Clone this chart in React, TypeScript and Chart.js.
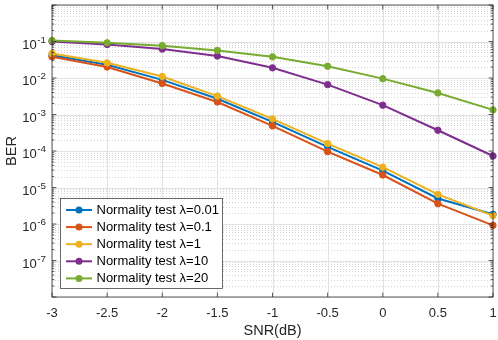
import React, { useEffect, useRef } from "react";
import { Chart, registerables } from "chart.js";
Chart.register(...registerables);

const snrDb = [-3, -2.5, -2, -1.5, -1, -0.5, 0, 0.5, 1];
const berLambda001 = [0.042, 0.023, 0.0089, 0.0027, 6.3e-4, 1.3e-4, 2.9e-5, 5.0e-6, 1.85e-6];
const berLambda01 = [0.038, 0.02, 0.0071, 0.0022, 4.9e-4, 9.6e-5, 2.2e-5, 3.6e-6, 9.2e-7];
const berLambda1 = [0.047, 0.026, 0.011, 0.0032, 7.6e-4, 1.6e-4, 3.6e-5, 6.5e-6, 1.7e-6];
const berLambda10 = [0.1, 0.083, 0.062, 0.04, 0.019, 0.0066, 0.0018, 3.7e-4, 7.3e-5];
const berLambda20 = [0.107, 0.092, 0.077, 0.057, 0.038, 0.021, 0.0096, 0.0039, 0.00134];

const seriesValues = [berLambda001, berLambda01, berLambda1, berLambda10, berLambda20];
const seriesLabels = [
  "Normality test λ=0.01",
  "Normality test λ=0.1",
  "Normality test λ=1",
  "Normality test λ=10",
  "Normality test λ=20",
];
const seriesColors = ["#0072BD", "#D95319", "#EDB120", "#7E2F8E", "#77AC30"];

const xTickValues = [-3, -2.5, -2, -1.5, -1, -0.5, 0, 0.5, 1];
const xTickLabels = ["-3", "-2.5", "-2", "-1.5", "-1", "-0.5", "0", "0.5", "1"];
const yDecadeExps = [-8, -7, -6, -5, -4, -3, -2, -1, 0];
const yLabelExps = [-7, -6, -5, -4, -3, -2, -1];
const xTitle = "SNR(dB)";
const yTitle = "BER";

const FONT = '"Liberation Sans", Arial, Helvetica, sans-serif';
const AXIS = "#262626";

function hline(ctx: CanvasRenderingContext2D, x0: number, x1: number, y: number) {
  ctx.beginPath();
  ctx.moveTo(x0, y);
  ctx.lineTo(x1, y);
  ctx.stroke();
}
function vline(ctx: CanvasRenderingContext2D, x: number, y0: number, y1: number) {
  ctx.beginPath();
  ctx.moveTo(x, y0);
  ctx.lineTo(x, y1);
  ctx.stroke();
}

const matlabPlugin = {
  id: "matlabLook",
  beforeDatasetsDraw(chart: any) {
    const { ctx, chartArea: a } = chart;
    const xs = chart.scales.x;
    const ys = chart.scales.y;
    ctx.save();
    ctx.lineWidth = 1;
    ctx.strokeStyle = "#d4d4d4";
    ctx.setLineDash([1, 2]);
    for (let e = -8; e < 0; e++) {
      for (let m = 2; m <= 9; m++) {
        const py = Math.round(ys.getPixelForValue(m * Math.pow(10, e))) + 0.5;
        hline(ctx, a.left, a.right, py);
      }
    }
    ctx.setLineDash([]);
    ctx.strokeStyle = "#e2e2e2";
    for (const e of yDecadeExps) {
      const py = Math.round(ys.getPixelForValue(Math.pow(10, e))) + 0.5;
      hline(ctx, a.left, a.right, py);
    }
    for (const v of xTickValues) {
      const px = Math.round(xs.getPixelForValue(v)) + 0.5;
      vline(ctx, px, a.top, a.bottom);
    }
    ctx.restore();
  },
  afterDatasetsDraw(chart: any) {
    const { ctx, chartArea: a } = chart;
    const xs = chart.scales.x;
    const ys = chart.scales.y;
    ctx.save();
    ctx.strokeStyle = AXIS;
    ctx.lineWidth = 0.75;
    ctx.strokeRect(a.left, a.top, a.right - a.left, a.bottom - a.top);
    const majorLen = 4.4;
    const minorLen = 2.2;
    for (const v of xTickValues) {
      const px = xs.getPixelForValue(v);
      vline(ctx, px, a.bottom, a.bottom - majorLen);
      vline(ctx, px, a.top, a.top + majorLen);
    }
    for (const e of yDecadeExps) {
      const py = ys.getPixelForValue(Math.pow(10, e));
      hline(ctx, a.left, a.left + majorLen, py);
      hline(ctx, a.right, a.right - majorLen, py);
    }
    for (let e = -8; e < 0; e++) {
      for (let m = 2; m <= 9; m++) {
        const py = ys.getPixelForValue(m * Math.pow(10, e));
        hline(ctx, a.left, a.left + minorLen, py);
        hline(ctx, a.right, a.right - minorLen, py);
      }
    }
    // x tick labels
    ctx.fillStyle = AXIS;
    ctx.font = `13px ${FONT}`;
    ctx.textAlign = "center";
    ctx.textBaseline = "alphabetic";
    xTickValues.forEach((v, i) => {
      ctx.fillText(xTickLabels[i], xs.getPixelForValue(v), a.bottom + 19.5);
    });
    // y tick labels 10^e
    for (const e of yLabelExps) {
      const py = ys.getPixelForValue(Math.pow(10, e));
      const expStr = String(e);
      ctx.font = `9.8px ${FONT}`;
      const ew = ctx.measureText(expStr).width;
      ctx.textAlign = "right";
      ctx.fillText(expStr, a.left - 6, py + 1.3);
      ctx.font = `13px ${FONT}`;
      ctx.fillText("10", a.left - 6.5 - ew, py + 7.2);
    }
    // axis titles
    ctx.font = `14.5px ${FONT}`;
    ctx.textAlign = "center";
    ctx.fillText(xTitle, (a.left + a.right) / 2, 334.5);
    ctx.save();
    ctx.translate(16.3, (a.top + a.bottom) / 2);
    ctx.rotate(-Math.PI / 2);
    ctx.fillText(yTitle, 0, 0);
    ctx.restore();
    // legend
    const lx = 60.5, ly = 198.5, lw = 162, lh = 90;
    ctx.fillStyle = "#ffffff";
    ctx.fillRect(lx, ly, lw, lh);
    ctx.strokeStyle = "#3a3a3a";
    ctx.lineWidth = 0.75;
    ctx.strokeRect(lx, ly, lw, lh);
    const rowY0 = 210;
    const rowStep = 17.1;
    ctx.font = `13px ${FONT}`;
    ctx.textAlign = "left";
    ctx.textBaseline = "middle";
    seriesLabels.forEach((lab, i) => {
      const ry = rowY0 + i * rowStep;
      ctx.strokeStyle = seriesColors[i];
      ctx.lineWidth = 2;
      hline(ctx, 66, 92, ry);
      ctx.fillStyle = seriesColors[i];
      ctx.beginPath();
      ctx.arc(79, ry, 3.5, 0, Math.PI * 2);
      ctx.fill();
      ctx.fillStyle = "#000000";
      ctx.fillText(lab, 96.5, ry + 0.5);
    });
    ctx.restore();
  },
};

export default function App() {
  const canvasRef = useRef<HTMLCanvasElement | null>(null);
  useEffect(() => {
    if (!canvasRef.current) return;
    const datasets = seriesValues.map((vals, i) => ({
      label: seriesLabels[i],
      data: snrDb.map((x, j) => ({ x, y: vals[j] })),
      borderColor: seriesColors[i],
      backgroundColor: seriesColors[i],
      pointBackgroundColor: seriesColors[i],
      pointBorderColor: seriesColors[i],
      borderWidth: 2,
      pointRadius: 3.2,
      pointBorderWidth: 1,
      pointStyle: "circle",
      tension: 0,
      clip: false,
      order: seriesValues.length - 1 - i,
    }));
    const chart = new Chart(canvasRef.current, {
      type: "line",
      data: { datasets },
      options: {
        responsive: false,
        animation: false,
        devicePixelRatio: 1,
        layout: { padding: { top: 1, right: 2, left: 0, bottom: 0 } },
        plugins: { legend: { display: false }, tooltip: { enabled: false } },
        scales: {
          x: {
            type: "linear",
            min: -3,
            max: 1,
            ticks: { display: false },
            grid: { display: false },
            border: { display: false },
            afterFit: (s: any) => {
              s.height = 43;
            },
          },
          y: {
            type: "logarithmic",
            min: 1e-8,
            max: 1,
            ticks: { display: false },
            grid: { display: false },
            border: { display: false },
            afterFit: (s: any) => {
              s.width = 52;
            },
          },
        },
      } as any,
      plugins: [matlabPlugin as any],
    });
    return () => chart.destroy();
  }, []);
  return (
    <div style={{ position: "absolute", left: 0, top: 0, width: 498, height: 340, background: "#fff" }}>
      <canvas ref={canvasRef} width={498} height={340} style={{ display: "block" }} />
    </div>
  );
}
